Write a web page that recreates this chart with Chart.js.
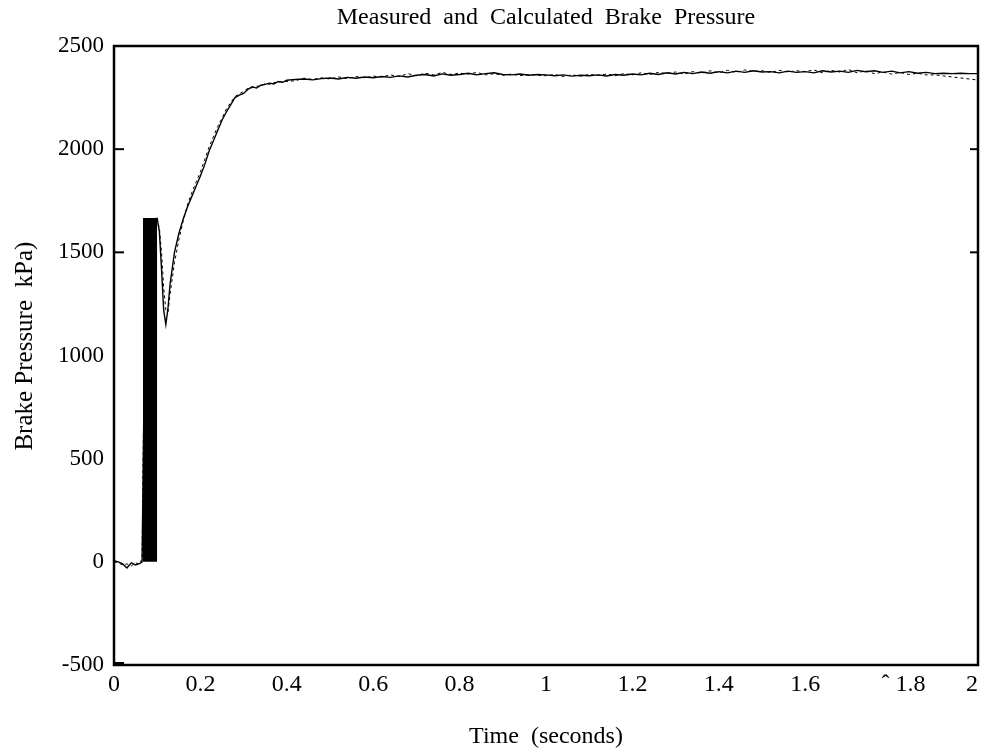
<!DOCTYPE html>
<html>
<head>
<meta charset="utf-8">
<script src="https://cdn.jsdelivr.net/npm/chart.js@4/dist/chart.umd.min.js"></script>
<style>
  html, body { margin: 0; padding: 0; background: #fff; }
  #wrap { width: 981px; height: 753px; }
</style>
</head>
<body>
<div id="wrap"><canvas id="brake" width="981" height="753"></canvas></div>
<script>
// time (s) shared by both traces
var times = [0, 0.01, 0.02, 0.03, 0.04, 0.05, 0.06, 0.065, 0.07, 0.08, 0.09, 0.10,
  0.105, 0.11, 0.115, 0.12, 0.125, 0.13, 0.14, 0.15, 0.16, 0.17, 0.18, 0.19, 0.20,
  0.21, 0.22, 0.23, 0.24, 0.25, 0.26, 0.27, 0.28, 0.29, 0.30, 0.31, 0.32, 0.33, 0.34,
  0.35, 0.36, 0.37, 0.38, 0.39, 0.40,
  0.42, 0.44, 0.46, 0.48, 0.50, 0.52, 0.54, 0.56, 0.58, 0.60, 0.62, 0.64, 0.66, 0.68,
  0.70, 0.72, 0.74, 0.76, 0.78, 0.80, 0.82, 0.84, 0.86, 0.88, 0.90, 0.92, 0.94, 0.96,
  0.98, 1.00, 1.02, 1.04, 1.06, 1.08, 1.10, 1.12, 1.14, 1.16, 1.18, 1.20, 1.22, 1.24,
  1.26, 1.28, 1.30, 1.32, 1.34, 1.36, 1.38, 1.40, 1.42, 1.44, 1.46, 1.48, 1.50, 1.52,
  1.54, 1.56, 1.58, 1.60, 1.62, 1.64, 1.66, 1.68, 1.70, 1.72, 1.74, 1.76, 1.78, 1.80,
  1.82, 1.84, 1.86, 1.88, 1.90, 1.92, 1.94, 1.96, 1.98, 2.00];

// measured pressure (kPa), solid line
var measured = [5, 0, -10, -30, -5, -15, -8, 0, 900, 1640, 1660, 1665,
  1600, 1420, 1220, 1150, 1230, 1350, 1500, 1590, 1660, 1720, 1770, 1820, 1870,
  1925, 1990, 2040, 2090, 2140, 2180, 2215, 2250, 2262, 2270, 2290, 2302, 2296, 2310,
  2314, 2320, 2316, 2328, 2324, 2334,
  2338, 2340, 2336, 2342, 2345, 2340, 2348, 2344, 2350, 2346, 2352, 2348, 2355, 2350,
  2358, 2362, 2355, 2365, 2358, 2362, 2368, 2360, 2366, 2370, 2362, 2360, 2364, 2358,
  2362, 2360, 2356, 2360, 2354, 2358, 2356, 2360, 2355, 2362, 2358, 2364, 2360, 2368,
  2362, 2370, 2364, 2372, 2366, 2374, 2368, 2376, 2370, 2378, 2372, 2380, 2374, 2376,
  2370, 2378, 2372, 2376, 2370, 2380, 2374, 2378, 2372, 2382, 2375, 2380, 2372, 2378,
  2370, 2376, 2368, 2372, 2366, 2368, 2366, 2368, 2366, 2366];

// calculated pressure (kPa), dashed line
var calculated = [0, -5, -15, -10, -20, -5, -12, 20, 1000, 1600, 1640, 1650,
  1620, 1500, 1330, 1220, 1210, 1300, 1450, 1560, 1650, 1730, 1790, 1840, 1890,
  1950, 2010, 2060, 2110, 2150, 2195, 2225, 2255, 2268, 2280, 2295, 2298, 2305, 2306,
  2318, 2314, 2324, 2322, 2330, 2328,
  2332, 2344, 2338, 2346, 2340, 2350, 2342, 2352, 2346, 2354, 2350, 2360, 2352, 2366,
  2356, 2368, 2360, 2372, 2362, 2368, 2364, 2372, 2360, 2366, 2358, 2364, 2356, 2362,
  2358, 2356, 2362, 2352, 2360, 2354, 2362, 2358, 2364, 2356, 2366, 2360, 2370, 2362,
  2372, 2366, 2374, 2364, 2376, 2368, 2380, 2370, 2382, 2372, 2384, 2376, 2380, 2372,
  2382, 2374, 2380, 2376, 2384, 2370, 2382, 2374, 2386, 2370, 2380, 2366, 2374, 2364,
  2372, 2362, 2368, 2360, 2360, 2355, 2350, 2345, 2340, 2335];

// solid black block over the step
var blockTimes = [0.067, 0.067, 0.1, 0.1];
var blockValues = [0, 1667, 1667, 0];

var xTicks = [0, 0.2, 0.4, 0.6, 0.8, 1, 1.2, 1.4, 1.6, 1.8, 2];
var xTickLabels = ['0', '0.2', '0.4', '0.6', '0.8', '1', '1.2', '1.4', '1.6',
  '\u2002\u2002\u02C6 1.8', '2\u2002'];
var leftTickMarks = [2500, 2000, 1500, -500];
var rightTickMarks = [2000, 1500];

function pts(xs, ys) {
  return xs.map(function (x, i) { return { x: x, y: ys[i] }; });
}

// frame + the few inward tick marks
var frame = {
  id: 'frame',
  afterDatasetsDraw: function (chart) {
    var a = chart.chartArea, ctx = chart.ctx, ys = chart.scales.y;
    ctx.save();
    ctx.strokeStyle = '#000';
    ctx.lineWidth = 2.5;
    ctx.strokeRect(a.left, a.top, a.right - a.left, a.bottom - a.top);
    ctx.lineWidth = 2;
    leftTickMarks.forEach(function (v) {
      var y = ys.getPixelForValue(v);
      if (v === -500) y -= 2;
      ctx.beginPath(); ctx.moveTo(a.left, y); ctx.lineTo(a.left + 10, y); ctx.stroke();
    });
    rightTickMarks.forEach(function (v) {
      var y = ys.getPixelForValue(v);
      ctx.beginPath(); ctx.moveTo(a.right - 8, y); ctx.lineTo(a.right, y); ctx.stroke();
    });
    ctx.restore();
  }
};

var serif = 'Liberation Serif, Times New Roman, serif';

new Chart(document.getElementById('brake'), {
  type: 'line',
  data: {
    datasets: [
      { data: pts(blockTimes, blockValues), borderWidth: 0, borderColor: '#000',
        backgroundColor: '#000', fill: 'origin', pointRadius: 0, tension: 0 },
      { data: pts(times, measured), borderColor: '#000', borderWidth: 1.4,
        pointRadius: 0, fill: false, tension: 0 },
      { data: pts(times, calculated), borderColor: '#000', borderWidth: 1,
        borderDash: [3, 3], pointRadius: 0, fill: false, tension: 0 }
    ]
  },
  options: {
    responsive: false,
    animation: false,
    devicePixelRatio: 1,
    layout: { padding: { top: 0, right: 3, left: 0, bottom: 0 } },
    plugins: {
      legend: { display: false },
      tooltip: { enabled: false },
      title: { display: false }
    },
    scales: {
      // top axis only carries the title, centred over the plot box
      top: {
        type: 'linear', position: 'top', min: 0, max: 2,
        afterFit: function (s) { s.height = 46; s.paddingLeft = 0; s.paddingRight = 0; },
        grid: { display: false, drawTicks: false },
        border: { display: false },
        ticks: { display: false },
        title: {
          display: true, text: 'Measured  and  Calculated  Brake  Pressure', color: '#000',
          font: { family: serif, size: 24 }, padding: { top: 3.6, bottom: 0 }
        }
      },
      x: {
        type: 'linear', min: 0, max: 2,
        afterFit: function (s) { s.height = 88; s.paddingLeft = 0; s.paddingRight = 0; },
        afterBuildTicks: function (s) { s.ticks = xTicks.map(function (v) { return { value: v }; }); },
        grid: { display: false, drawTicks: false },
        border: { display: false },
        ticks: {
          color: '#000', padding: 5, maxRotation: 0, autoSkip: false,
          font: { family: serif, size: 24 },
          callback: function (v) { var i = xTicks.indexOf(Number(v.toFixed(1))); return i >= 0 ? xTickLabels[i] : ''; }
        },
        title: {
          display: true, text: 'Time  (seconds)', color: '#000',
          font: { family: serif, size: 24 }, padding: { top: 0, bottom: 2 }
        }
      },
      y: {
        type: 'linear', min: -500, max: 2500,
        afterFit: function (s) { s.width = 114; s.paddingTop = 0; s.paddingBottom = 0; },
        grid: { display: false, drawTicks: false },
        border: { display: false },
        ticks: {
          stepSize: 500, color: '#000', padding: 10,
          font: { family: serif, size: 23 },
          callback: function (v) { return String(v); }
        },
        title: {
          display: true, text: '   Brake Pressure  kPa)', color: '#000',
          font: { family: serif, size: 25 }, padding: { top: 10, bottom: 0 }
        }
      }
    }
  },
  plugins: [frame]
});
</script>
</body>
</html>
